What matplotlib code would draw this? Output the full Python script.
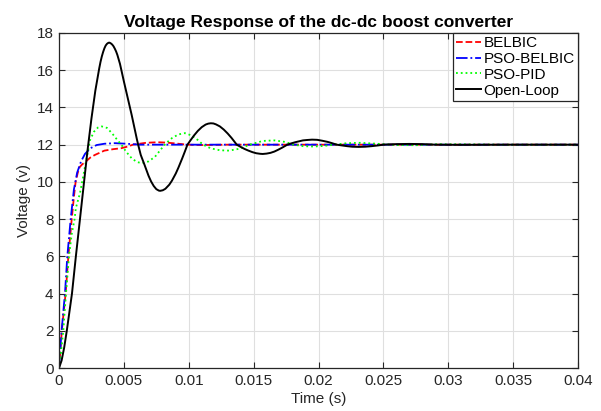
import matplotlib
matplotlib.use("Agg")
import matplotlib.pyplot as plt

# values
t_belbic = [0, 0.0001, 0.00022, 0.00036, 0.00051, 0.00072, 0.00098, 0.00115, 0.00128, 0.00145,
            0.0016, 0.0018, 0.002, 0.0024, 0.00277, 0.0035, 0.0042, 0.0048, 0.0053, 0.0057,
            0.0062, 0.0067, 0.0076, 0.0083, 0.0089, 0.0099, 0.011, 0.013, 0.02, 0.03, 0.04]
v_belbic = [0, 0.9, 2.0, 3.0, 4.0, 6.0, 8.0, 9.2, 10.0, 10.5,
            10.8, 10.95, 11.05, 11.3, 11.45, 11.68, 11.76, 11.81, 11.9, 12.0,
            12.05, 12.1, 12.13, 12.11, 12.07, 12.0, 11.98, 12.0, 12.0, 12.0, 12.0]

t_pso_belbic = [0, 0.0001, 0.0002, 0.00046, 0.00064, 0.0009, 0.00115, 0.0014, 0.0017, 0.002,
                0.0024, 0.0029, 0.0035, 0.0043, 0.0052, 0.0062, 0.01, 0.02, 0.03, 0.04]
v_pso_belbic = [0, 1.0, 2.0, 4.0, 6.0, 8.0, 9.6, 10.5, 11.1, 11.5,
                11.8, 11.98, 12.05, 12.08, 12.05, 12.0, 12.0, 12.0, 12.0, 12.0]

t_pso_pid = [0, 0.00015, 0.00033, 0.00054, 0.00077, 0.00098, 0.0012, 0.0013, 0.00162, 0.002,
             0.0024, 0.0027, 0.003, 0.0033, 0.0037, 0.0041, 0.0045, 0.0048, 0.0052, 0.0056,
             0.006, 0.0064, 0.0069, 0.0074, 0.0078, 0.0082, 0.0087, 0.0092, 0.0097, 0.0102,
             0.0107, 0.0111, 0.0117, 0.0124, 0.0131, 0.0139, 0.0147, 0.0157, 0.0166, 0.0174,
             0.0181, 0.0188, 0.0196, 0.0204, 0.0212, 0.0222, 0.0232, 0.0245, 0.026, 0.0275,
             0.029, 0.031, 0.034, 0.04]
v_pso_pid = [0, 0.8, 2.0, 4.0, 6.0, 7.2, 8.0, 8.6, 9.4, 10.8,
             12.26, 12.7, 12.92, 12.98, 12.9, 12.6, 12.25, 12.0, 11.6, 11.27,
             11.07, 11.0, 11.1, 11.35, 11.7, 12.05, 12.35, 12.55, 12.62, 12.5,
             12.25, 12.0, 11.8, 11.7, 11.68, 11.78, 12.0, 12.2, 12.23, 12.15,
             12.0, 11.92, 11.9, 11.93, 12.0, 12.08, 12.1, 12.05, 11.98, 11.97,
             12.02, 12.02, 12.0, 12.0]

t_open = [0, 0.0002, 0.0004, 0.0006, 0.0008, 0.001, 0.0013, 0.0016, 0.0019, 0.0022,
          0.0025, 0.0028, 0.0031, 0.0032, 0.0033, 0.0034, 0.0035, 0.0036, 0.0037, 0.0038,
          0.00385, 0.0039, 0.004, 0.0041, 0.0042, 0.0043, 0.0044, 0.0045, 0.0047, 0.005,
          0.0053, 0.0056, 0.0058, 0.006, 0.0061, 0.0063, 0.0066, 0.0069, 0.0071, 0.0073,
          0.0075, 0.0077, 0.0078, 0.008, 0.0082, 0.0085, 0.0087, 0.009, 0.0092, 0.0095,
          0.0097, 0.0099, 0.0101, 0.0104, 0.0107, 0.011, 0.0113, 0.0115, 0.0117, 0.0119,
          0.0121, 0.0124, 0.0127, 0.013, 0.0133, 0.0137, 0.014, 0.0143, 0.0146, 0.0149,
          0.0152, 0.0155, 0.0157, 0.016, 0.0163, 0.0166, 0.0169, 0.0172, 0.0176, 0.0179,
          0.0182, 0.0185, 0.0188, 0.0191, 0.0195, 0.0199, 0.0203, 0.0207, 0.021, 0.0214,
          0.0218, 0.0222, 0.0226, 0.0231, 0.0236, 0.0241, 0.0246, 0.025, 0.026, 0.027,
          0.028, 0.029, 0.031, 0.035, 0.04]
v_open = [0, 0.4, 1.1, 2.0, 3.0, 4.0, 6.0, 7.9, 9.8, 11.7,
          13.4, 14.9, 16.1, 16.45, 16.74, 16.98, 17.18, 17.33, 17.42, 17.47,
          17.48, 17.48, 17.44, 17.38, 17.29, 17.16, 17.01, 16.82, 16.34, 15.4,
          14.5, 13.6, 12.95, 12.3, 12.0, 11.45, 10.9, 10.33, 10.02, 9.78,
          9.61, 9.53, 9.52, 9.55, 9.63, 9.85, 10.06, 10.45, 10.76, 11.27,
          11.63, 12.0, 12.2, 12.49, 12.74, 12.94, 13.08, 13.13, 13.15, 13.14,
          13.09, 12.98, 12.81, 12.6, 12.36, 12.0, 11.88, 11.77, 11.68, 11.6,
          11.54, 11.51, 11.5, 11.52, 11.56, 11.63, 11.73, 11.84, 12.0, 12.07,
          12.13, 12.18, 12.23, 12.25, 12.27, 12.26, 12.21, 12.15, 12.09, 12.0,
          11.96, 11.92, 11.89, 11.88, 11.89, 11.92, 11.96, 12.0, 12.03, 12.04,
          12.03, 12.0, 11.99, 12.0, 12.0]

x_ticks = [0, 0.005, 0.01, 0.015, 0.02, 0.025, 0.03, 0.035, 0.04]
x_labels = ["0", "0.005", "0.01", "0.015", "0.02", "0.025", "0.03", "0.035", "0.04"]
y_ticks = list(range(0, 19, 2))

plt.rcParams["font.family"] = ["Liberation Sans", "DejaVu Sans"]
dark = "#262626"

fig = plt.figure(figsize=(6.01, 4.11), dpi=100)
ax = fig.add_axes([59 / 601, 1 - 368 / 411, 519 / 601, 335 / 411])

ax.plot(t_belbic, v_belbic, "--", color="#ff0000", lw=1.3, label="BELBIC")
ax.plot(t_pso_belbic, v_pso_belbic, "-.", color="#0000ff", lw=1.3, label="PSO-BELBIC")
ax.plot(t_pso_pid, v_pso_pid, ":", color="#00ff00", lw=1.3, label="PSO-PID")
ax.plot(t_open, v_open, "-", color="black", lw=1.4, label="Open-Loop")

ax.set_xlim(0, 0.04)
ax.set_ylim(0, 18)
ax.set_xticks(x_ticks)
ax.set_xticklabels(x_labels)
ax.set_yticks(y_ticks)
ax.grid(True, color="#dfdfdf", lw=0.8)
ax.set_axisbelow(True)
ax.tick_params(direction="in", top=True, right=True, length=4, width=0.8,
               colors=dark, labelsize=11, pad=4)
for s in ax.spines.values():
    s.set_color(dark)
    s.set_linewidth(0.9)

ax.set_xlabel("Time (s)", fontsize=11, color=dark, labelpad=3)
ax.set_ylabel("Voltage (v)", fontsize=11, color=dark, labelpad=4)
ax.set_title("Voltage Response of the dc-dc boost converter", fontsize=12.5,
             fontweight="bold", color="black", pad=4)

leg = ax.legend(loc="upper right", bbox_to_anchor=(1, 1), borderaxespad=0,
                fontsize=11, fancybox=False, framealpha=1, edgecolor=dark,
                labelspacing=0.12, handlelength=1.6, handletextpad=0.2,
                borderpad=0.2)
leg.get_frame().set_linewidth(0.9)

fig.savefig("out.png", dpi=100)
